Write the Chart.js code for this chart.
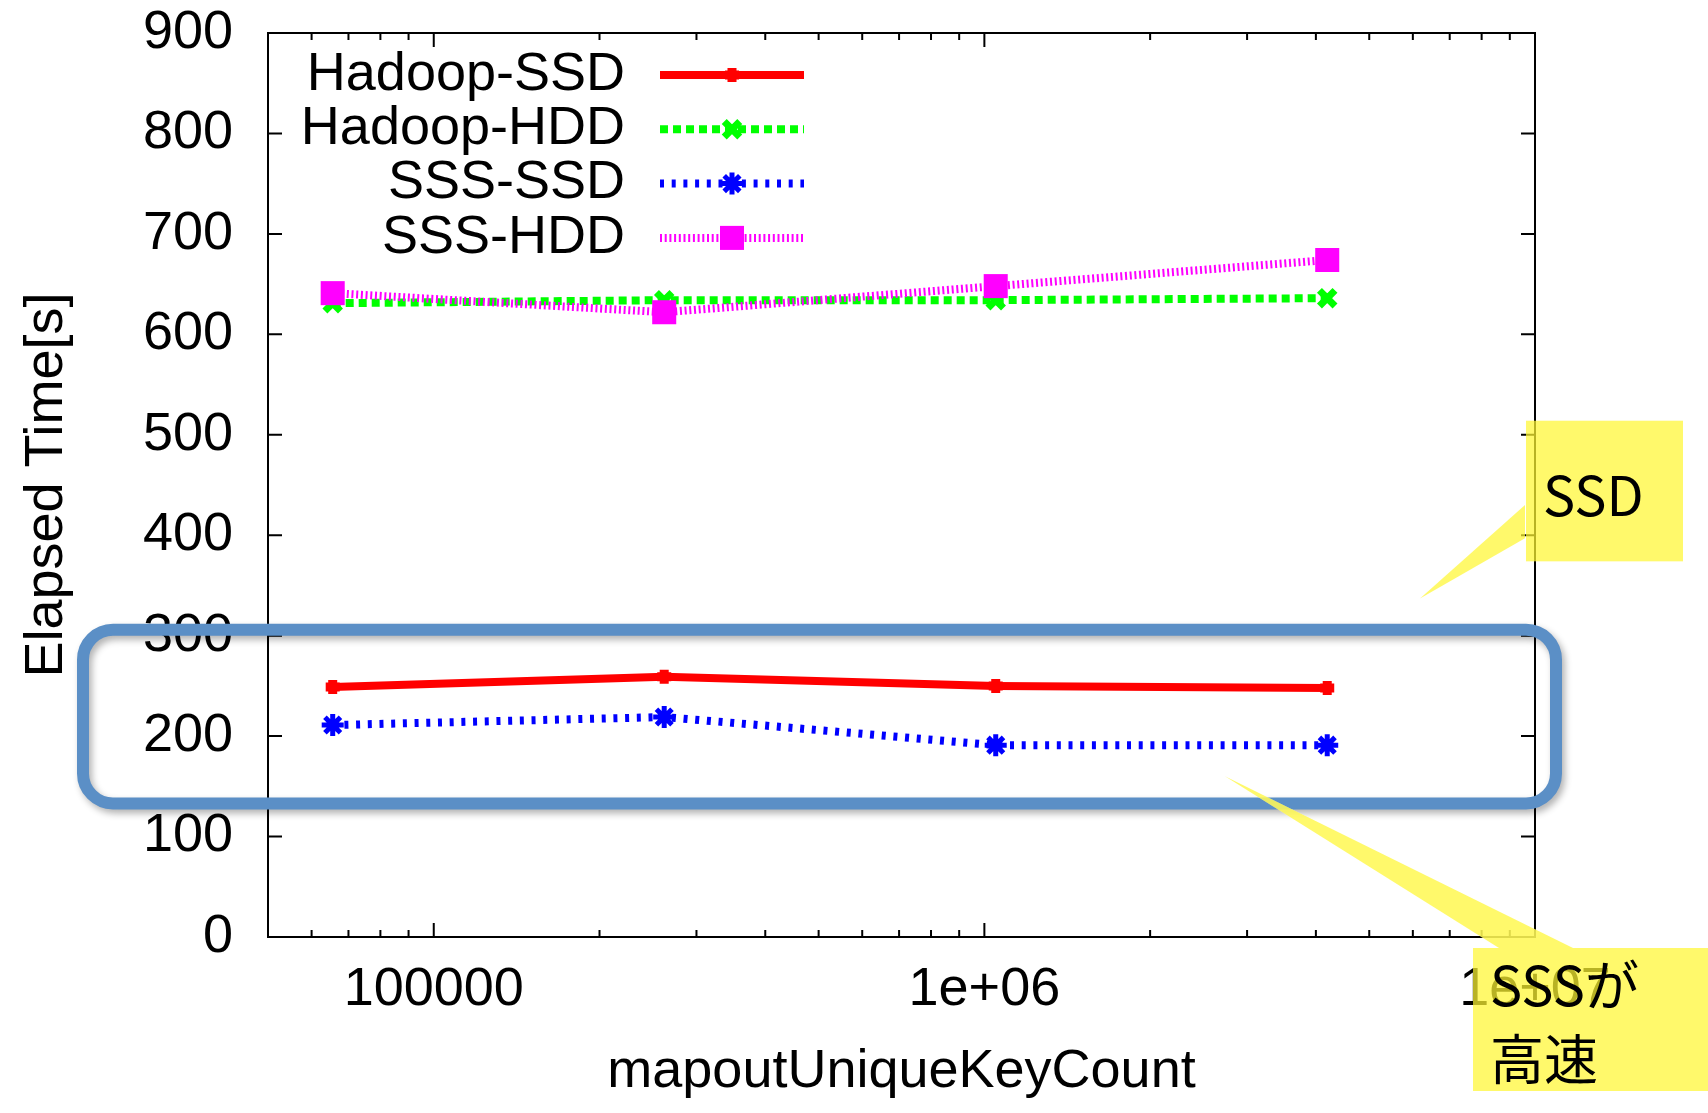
<!DOCTYPE html>
<html>
<head>
<meta charset="utf-8">
<script src="https://cdn.jsdelivr.net/npm/chart.js@4.4.0/dist/chart.umd.min.js"></script>
<style>
  html, body { margin: 0; padding: 0; background: #fff; }
  #wrap { width: 1708px; height: 1113px; }
</style>
</head>
<body>
<div id="wrap"><canvas id="elapsedChart" width="1708" height="1113"></canvas></div>
<script>
// data
const keyCounts = [65536, 262144, 1048576, 4194304];
const hadoopSSD = [249, 259, 250, 248];
const hadoopHDD = [631, 634, 634, 636];
const sssSSD = [211, 219, 191, 191];
const sssHDD = [641, 622, 648, 674];

// axis ticks
const yTicks = [0, 100, 200, 300, 400, 500, 600, 700, 800, 900];
const xMajorTicks = [100000, 1000000, 10000000];
const xTickLabels = ['100000', '1e+06', '1e+07'];
const xMinorTicks = [50000, 60000, 70000, 80000, 90000,
  200000, 300000, 400000, 500000, 600000, 700000, 800000, 900000,
  2000000, 3000000, 4000000, 5000000, 6000000, 7000000, 8000000, 9000000];

const labelFont = 'Liberation Sans, Arial, Helvetica, sans-serif';
const noteFont = '"Noto Sans CJK JP", "Noto Sans", sans-serif';

function series(values) {
  return keyCounts.map((k, i) => ({ x: k, y: values[i] }));
}

// gnuplot style frame with inward ticks on all four sides
const frameAndTicks = {
  id: 'frameAndTicks',
  beforeDatasetsDraw(chart) {
    const { ctx, chartArea: a, scales: { x, y } } = chart;
    ctx.save();
    ctx.strokeStyle = '#000';
    ctx.lineWidth = 2;
    ctx.beginPath();
    x.ticks.forEach(t => {
      const px = x.getPixelForValue(t.value);
      const len = xMajorTicks.includes(t.value) ? 14 : 7;
      ctx.moveTo(px, a.bottom); ctx.lineTo(px, a.bottom - len);
      ctx.moveTo(px, a.top); ctx.lineTo(px, a.top + len);
    });
    y.ticks.forEach(t => {
      const py = y.getPixelForValue(t.value);
      ctx.moveTo(a.left, py); ctx.lineTo(a.left + 14, py);
      ctx.moveTo(a.right, py); ctx.lineTo(a.right - 14, py);
    });
    ctx.stroke();
    ctx.strokeRect(a.left, a.top, a.right - a.left, a.bottom - a.top);
    ctx.restore();
  }
};

// legend: label on the left, line sample on the right
const sampleLegend = {
  id: 'sampleLegend',
  afterDatasetsDraw(chart) {
    const { ctx, chartArea: a } = chart;
    chart.data.datasets.forEach((ds, i) => {
      const rowY = a.top + 42 + i * 54.3;
      ctx.save();
      ctx.fillStyle = '#000';
      ctx.font = '54px ' + labelFont;
      ctx.textAlign = 'right';
      ctx.textBaseline = 'middle';
      ctx.fillText(ds.label, a.left + 357, rowY);

      ctx.strokeStyle = ds.borderColor;
      ctx.lineWidth = ds.borderWidth;
      ctx.setLineDash(ds.borderDash);
      ctx.beginPath();
      ctx.moveTo(a.left + 392, rowY);
      ctx.lineTo(a.left + 536, rowY);
      ctx.stroke();
      ctx.setLineDash([]);

      ctx.fillStyle = ds.pointBackgroundColor;
      ctx.lineWidth = ds.pointBorderWidth;
      Chart.helpers.drawPoint(ctx, {
        pointStyle: ds.pointStyle, radius: ds.pointRadius,
        borderWidth: ds.pointBorderWidth, rotation: 0
      }, a.left + 464, rowY);
      ctx.restore();
    });
  }
};

// slide overlays: blue highlight box and yellow callouts
const slideNotes = {
  id: 'slideNotes',
  afterDraw(chart) {
    const { ctx, chartArea: a, scales: { y } } = chart;
    const yellow = 'rgba(255, 247, 50, 0.72)';

    ctx.save();
    ctx.shadowColor = 'rgba(0, 0, 0, 0.3)';
    ctx.shadowBlur = 7;
    ctx.shadowOffsetX = 3;
    ctx.shadowOffsetY = 4;
    ctx.strokeStyle = '#5b8fc6';
    ctx.lineWidth = 12;
    const bTop = y.getPixelForValue(306);
    const bBottom = y.getPixelForValue(133);
    ctx.beginPath();
    ctx.roundRect(a.left - 185, bTop, (a.right + 21) - (a.left - 185), bBottom - bTop, 30);
    ctx.stroke();
    ctx.restore();

    ctx.save();
    // SSD callout
    const sTop = y.getPixelForValue(514);
    const sBottom = y.getPixelForValue(374);
    ctx.fillStyle = yellow;
    ctx.beginPath();
    ctx.moveTo(a.right - 10, y.getPixelForValue(430));
    ctx.lineTo(a.right - 115, y.getPixelForValue(337));
    ctx.lineTo(a.right - 10, y.getPixelForValue(397));
    ctx.closePath();
    ctx.fill();
    ctx.fillRect(a.right - 9, sTop, 157, sBottom - sTop);

    // SSS callout
    const tip = [a.right - 310, y.getPixelForValue(160)];
    ctx.beginPath();
    ctx.moveTo(tip[0], tip[1]);
    ctx.lineTo(a.right - 36, a.bottom + 11);
    ctx.lineTo(a.right + 38, a.bottom + 11);
    ctx.closePath();
    ctx.fillStyle = 'rgba(255, 255, 255, 0.55)';
    ctx.fill();
    ctx.fillStyle = yellow;
    ctx.fill();
    ctx.fillRect(a.right - 62, a.bottom + 11, chart.width - (a.right - 62), 143);

    ctx.fillStyle = '#000';
    ctx.font = '54px ' + noteFont;
    ctx.textAlign = 'left';
    ctx.textBaseline = 'alphabetic';
    ctx.fillText('SSD', a.right + 8, sTop + 95);
    ctx.fillText('SSSが', a.right - 45, a.bottom + 69);
    ctx.fillText('高速', a.right - 45, a.bottom + 143);
    ctx.restore();
  }
};

const elapsedChart = new Chart(document.getElementById('elapsedChart'), {
  type: 'line',
  data: {
    datasets: [{
      label: 'Hadoop-SSD',
      data: series(hadoopSSD),
      borderColor: '#ff0000',
      backgroundColor: '#ff0000',
      pointBackgroundColor: '#ff0000',
      pointBorderColor: '#ff0000',
      borderWidth: 8,
      borderDash: [],
      pointStyle: 'cross',
      pointRadius: 7,
      pointBorderWidth: 9,
      order: 4
    }, {
      label: 'Hadoop-HDD',
      data: series(hadoopHDD),
      borderColor: '#00ff00',
      backgroundColor: '#00ff00',
      pointBackgroundColor: '#00ff00',
      pointBorderColor: '#00ff00',
      borderWidth: 8,
      borderDash: [8, 5],
      pointStyle: 'crossRot',
      pointRadius: 11,
      pointBorderWidth: 7,
      order: 3
    }, {
      label: 'SSS-SSD',
      data: series(sssSSD),
      borderColor: '#0000ff',
      backgroundColor: '#0000ff',
      pointBackgroundColor: '#0000ff',
      pointBorderColor: '#0000ff',
      borderWidth: 8,
      borderDash: [4, 7.7],
      pointStyle: 'star',
      pointRadius: 11,
      pointBorderWidth: 5,
      order: 2
    }, {
      label: 'SSS-HDD',
      data: series(sssHDD),
      borderColor: '#ff00ff',
      backgroundColor: '#ff00ff',
      pointBackgroundColor: '#ff00ff',
      pointBorderColor: '#ff00ff',
      borderWidth: 8,
      borderDash: [2, 2.7],
      pointStyle: 'rect',
      pointRadius: 17,
      pointBorderWidth: 0,
      order: 1
    }]
  },
  options: {
    responsive: false,
    animation: false,
    tension: 0,
    layout: { padding: { top: 33, right: 173, left: 0, bottom: 0 } },
    plugins: {
      legend: { display: false },
      tooltip: { enabled: false }
    },
    scales: {
      x: {
        type: 'logarithmic',
        min: 50000,
        max: 10000000,
        grid: { display: false, drawTicks: false },
        border: { display: false },
        afterBuildTicks: (scale) => {
          scale.ticks = xMinorTicks.concat(xMajorTicks).sort((p, q) => p - q).map(v => ({ value: v }));
        },
        afterFit: (scale) => { scale.height = 176; },
        ticks: {
          autoSkip: false,
          maxRotation: 0,
          minRotation: 0,
          padding: 26,
          color: '#000',
          font: { family: labelFont, size: 54, lineHeight: 1 },
          callback: (value) => {
            const i = xMajorTicks.indexOf(value);
            return i >= 0 ? xTickLabels[i] : '';
          }
        },
        title: {
          display: true,
          text: 'mapoutUniqueKeyCount',
          color: '#000',
          font: { family: labelFont, size: 54, lineHeight: 1 },
          padding: { top: 0, bottom: 14 }
        }
      },
      y: {
        min: 0,
        max: 900,
        grid: { display: false, drawTicks: false },
        border: { display: false },
        afterBuildTicks: (scale) => { scale.ticks = yTicks.map(v => ({ value: v })); },
        afterFit: (scale) => {
          scale.width = 268;
          scale.paddingTop = 27;
          scale.paddingBottom = 27;
        },
        ticks: {
          padding: 35,
          color: '#000',
          font: { family: labelFont, size: 54, lineHeight: 1 }
        },
        title: {
          display: true,
          text: 'Elapsed Time[s]',
          color: '#000',
          font: { family: labelFont, size: 54, lineHeight: 1 },
          padding: { top: 20, bottom: 0 }
        }
      }
    }
  },
  plugins: [frameAndTicks, sampleLegend, slideNotes]
});
</script>
</body>
</html>
